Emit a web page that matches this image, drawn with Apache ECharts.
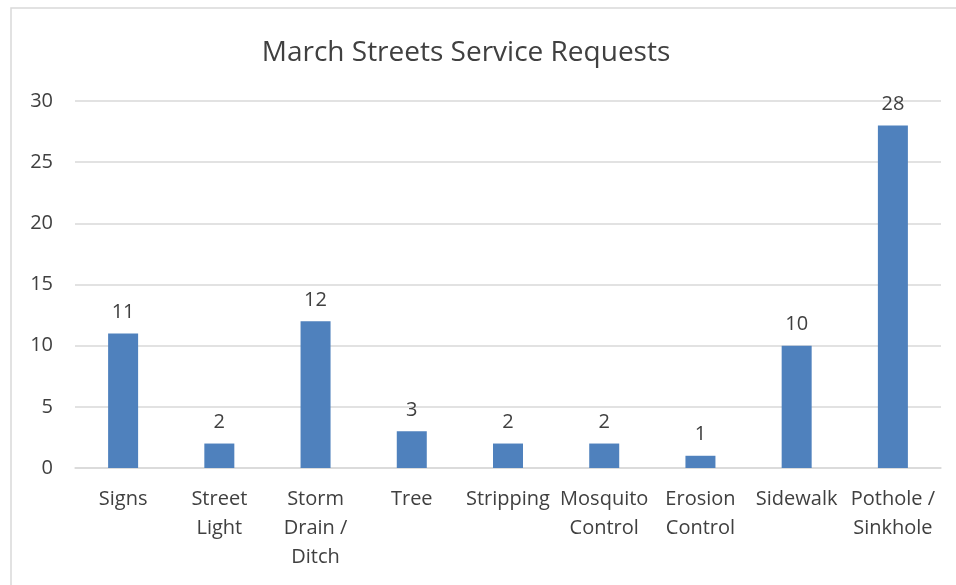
<!DOCTYPE html>
<html>
<head>
<meta charset="utf-8">
<script src="https://cdn.jsdelivr.net/npm/echarts@6/dist/echarts.min.js"></script>
<style>
  html, body { margin: 0; padding: 0; background: #fff; }
  #chart { width: 956px; height: 585px; }
</style>
</head>
<body>
<div id="chart"></div>
<script>
  // chart data
  const title = 'March Streets Service Requests'
  const categories = ['Signs', 'Street\nLight', 'Storm\nDrain /\nDitch', 'Tree', 'Stripping',
    'Mosquito\nControl', 'Erosion\nControl', 'Sidewalk', 'Pothole /\nSinkhole']
  const requests = [11, 2, 12, 3, 2, 2, 1, 10, 28]
  const yTicks = [0, 5, 10, 15, 20, 25, 30]

  const textColor = '#404040'
  const font = 'Open Sans'

  const chart = echarts.init(document.getElementById('chart'))
  chart.setOption({
    animation: false,
    textStyle: { fontFamily: font },
    title: {
      text: title,
      left: 461,
      textAlign: 'center',
      top: 34,
      textStyle: { fontFamily: font, fontSize: 28, fontWeight: 'normal', color: textColor }
    },
    graphic: [{
      type: 'rect',
      shape: { x: 11, y: 8, width: 1000, height: 1000 },
      style: { fill: 'none', stroke: '#d9d9d9', lineWidth: 1.5 },
      silent: true
    }],
    grid: { left: 75, right: 15, top: 101, bottom: 117 },
    xAxis: {
      type: 'category',
      data: categories,
      axisTick: { show: false },
      axisLine: { lineStyle: { color: '#d9d9d9', width: 1.5 } },
      axisLabel: {
        interval: 0,
        color: textColor,
        fontSize: 20,
        lineHeight: 29,
        margin: 17
      }
    },
    yAxis: {
      type: 'value',
      min: yTicks[0],
      max: yTicks[yTicks.length - 1],
      interval: yTicks[1] - yTicks[0],
      axisLine: { show: false },
      axisTick: { show: false },
      splitLine: { lineStyle: { color: '#d9d9d9', width: 1.5 } },
      axisLabel: { color: textColor, fontSize: 20, margin: 22 }
    },
    series: [{
      type: 'bar',
      data: requests,
      barWidth: 30,
      itemStyle: { color: '#4f81bd' },
      label: {
        show: true,
        position: 'top',
        distance: 11,
        color: textColor,
        fontSize: 20
      }
    }]
  })
</script>
</body>
</html>
